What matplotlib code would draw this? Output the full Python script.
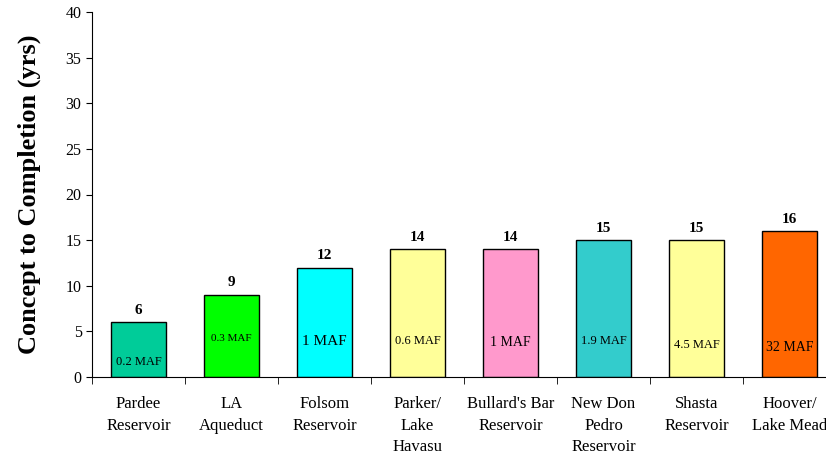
import matplotlib.pyplot as plt
import numpy as np

plt.rcParams['font.family'] = ['Liberation Serif', 'DejaVu Serif']

categories = ['Pardee\nReservoir', 'LA\nAqueduct', 'Folsom\nReservoir', 'Parker/\nLake\nHavasu',
              "Bullard's Bar\nReservoir", 'New Don\nPedro\nReservoir', 'Shasta\nReservoir',
              'Hoover/\nLake Mead']
years = [6, 9, 12, 14, 14, 15, 15, 16]
capacity = ['0.2 MAF', '0.3 MAF', '1 MAF', '0.6 MAF', '1 MAF', '1.9 MAF', '4.5 MAF', '32 MAF']
label_y = [1.6, 4.2, 3.9, 3.9, 3.8, 4.0, 3.5, 3.2]
label_size = [9, 8, 11, 9, 10, 9, 9, 10]
colors = ['#00CC99', '#00FF00', '#00FFFF', '#FFFF99', '#FF99CC', '#33CCCC', '#FFFF99', '#FF6600']

fig = plt.figure(figsize=(8.26, 4.58), dpi=100)
ax = fig.add_axes([92 / 826, 81 / 458, 744 / 826, 365 / 458])

x = np.arange(len(categories))
ax.bar(x, years, width=0.6, color=colors, edgecolor='black', linewidth=1)

for xi, v in zip(x, years):
    ax.text(xi, v + 0.6, str(v), ha='center', va='bottom', fontsize=11, fontweight='bold')
for xi, t, ly, fs in zip(x, capacity, label_y, label_size):
    ax.text(xi, ly, t, ha='center', va='center', fontsize=fs)

ax.set_xlim(-0.5, len(categories) - 0.5)
ax.set_ylim(0, 40)
ax.set_yticks(range(0, 41, 5))
ax.tick_params(axis='y', labelsize=11.5, direction='out', length=4)

ax.set_xticks(x)
ax.set_xticklabels(categories, fontsize=12, linespacing=1.45)
ax.set_xticks(np.arange(-0.5, len(categories), 1), minor=True)
ax.tick_params(axis='x', which='major', length=0, pad=14)
ax.tick_params(axis='x', which='minor', length=5, direction='out')

ax.spines['top'].set_visible(False)
ax.spines['right'].set_visible(False)

ax.set_ylabel('Concept to Completion (yrs)', fontsize=19, fontweight='bold', labelpad=18)

fig.savefig('out.png', dpi=100)
